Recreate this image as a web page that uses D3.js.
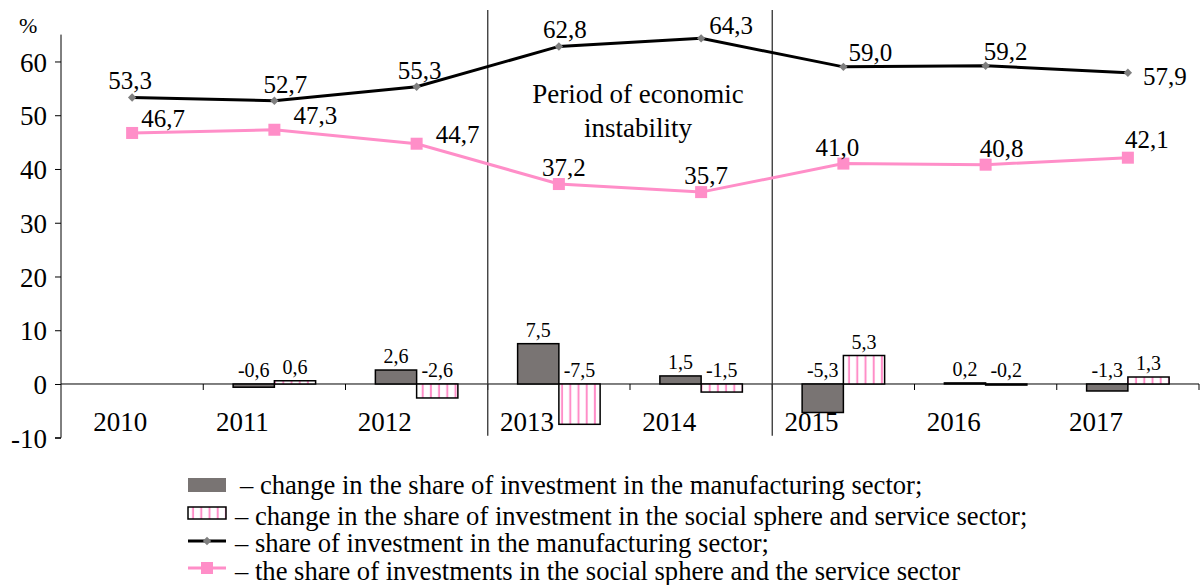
<!DOCTYPE html>
<html><head><meta charset="utf-8">
<script src="https://cdn.jsdelivr.net/npm/d3@7"></script>
<style>body{margin:0;background:#fff}svg{display:block}</style>
</head><body><svg id="c" width="1204" height="585" font-family="'Liberation Serif', 'Times New Roman', 'DejaVu Serif', serif"></svg>
<script>
const years = ["2010","2011","2012","2013","2014","2015","2016","2017"];
const shareManufacturing = [53.3,52.7,55.3,62.8,64.3,59.0,59.2,57.9];
const shareSocial = [46.7,47.3,44.7,37.2,35.7,41.0,40.8,42.1];
const changeManufacturing = [null,-0.6,2.6,7.5,1.5,-5.3,0.2,-1.3];
const changeSocial = [null,0.6,-2.6,-7.5,-1.5,5.3,-0.2,1.3];
const yTicks = [-10,0,10,20,30,40,50,60];
const legendLabels = [
  "– change in the share of investment in the manufacturing sector;",
  "– change in the share of investment in the social sphere and service sector;",
  "– share of investment in the manufacturing sector;",
  "– the share of investments in the social sphere and the service sector"
];
const periodLabel = ["Period of economic","instability"];
const periodBounds = ["2013","2014"];

// label placement (layout, not data)
const manuLabelOff = [[-2,-8],[11,-8],[3,-8],[6,-8],[30,-4],[27,-6],[20,-6],[37,12]];
const socLabelOff = [[31,-6],[41,-6],[41,-1],[5,-8],[5,-8],[-6,-8],[16,-8],[19,-10]];
const yearLabelDx = [-12,-32,-32,-32,-32,-32,-32,-32];

const SERIF = "'Liberation Serif', 'Times New Roman', 'DejaVu Serif', serif";
const fmt = v => d3.format(".1f")(v).replace(".", ",").replace("−","-");

const svg = d3.select("#c");
const L = 61, R = 1199;
const x = d3.scaleBand().domain(years).range([L, R]).paddingInner(0).paddingOuter(0);
const y = d3.scaleLinear().domain([-10, 65]).range([437.75, 34.6]);
const cx = d => x(d) + x.bandwidth()/2;
const bw = x.bandwidth()*0.29;

// pattern
const defs = svg.append("defs");
const pat = defs.append("pattern").attr("id","stripes").attr("patternUnits","userSpaceOnUse")
  .attr("width",8.2).attr("height",10);
pat.append("rect").attr("width",8.2).attr("height",10).attr("fill","#fff");
pat.append("rect").attr("x",3.5).attr("width",2).attr("height",10).attr("fill","#ff8ec8");

// y axis
const yAxis = d3.axisLeft(y).tickValues(yTicks).tickSize(6).tickPadding(8).tickFormat(d => String(d));
const gy = svg.append("g").attr("transform",`translate(${L},0)`).call(yAxis);
gy.attr("font-family",SERIF).attr("font-size",27);
gy.select(".domain").attr("stroke","#000").attr("d",`M-6,${y(-10)}H0V${y(65)}`);
gy.selectAll(".tick line").attr("stroke","#000");
gy.selectAll(".tick text").attr("fill","#000").attr("dy","0.36em");
svg.append("text").attr("x",19).attr("y",33).attr("font-size",22).text("%");

// x axis at zero
const xAxis = d3.axisBottom(x).tickSize(0).tickFormat("");
const gx = svg.append("g").attr("transform",`translate(0,${y(0)})`).call(xAxis);
gx.select(".domain").attr("stroke","#000").attr("d",`M${L},0H${R}`);
svg.append("g").selectAll("line").data(years).join("line")
  .attr("x1",(d,i)=>L+(i+1)*x.step()).attr("x2",(d,i)=>L+(i+1)*x.step())
  .attr("y1",y(0)).attr("y2",y(0)+6).attr("stroke","#000");
svg.append("g").selectAll("text").data(years).join("text")
  .attr("x",(d,i)=>cx(d)+yearLabelDx[i]).attr("y",y(0)+47).attr("text-anchor","middle").attr("font-size",27).text(d=>d);

// period lines
const px1 = x(periodBounds[0]), px2 = x(periodBounds[1]) + x.bandwidth();
[px1, px2].forEach(p => svg.append("line").attr("x1",p).attr("x2",p).attr("y1",10).attr("y2",y(-10)-2)
  .attr("stroke","#333").attr("stroke-width",1.3));
svg.append("g").selectAll("text").data(periodLabel).join("text")
  .attr("x",(px1+px2)/2+8).attr("y",(d,i)=>103+i*34).attr("text-anchor","middle").attr("font-size",27).text(d=>d);

// bars
const barsM = years.map((yr,i)=>({yr,v:changeManufacturing[i]})).filter(d=>d.v!==null);
const barsS = years.map((yr,i)=>({yr,v:changeSocial[i]})).filter(d=>d.v!==null);
svg.append("g").selectAll("rect").data(barsM).join("rect")
  .attr("x",d=>cx(d.yr)-bw).attr("width",bw)
  .attr("y",d=>y(Math.max(d.v,0))).attr("height",d=>Math.abs(y(d.v)-y(0)))
  .attr("fill","#797473").attr("stroke","#000").attr("stroke-width",1.5);
svg.append("g").selectAll("rect").data(barsS).join("rect")
  .attr("x",d=>cx(d.yr)).attr("width",bw)
  .attr("y",d=>y(Math.max(d.v,0))).attr("height",d=>Math.abs(y(d.v)-y(0)))
  .attr("fill","url(#stripes)").attr("stroke","#000").attr("stroke-width",1.5);
svg.append("g").selectAll("text").data(barsM).join("text")
  .attr("x",d=>cx(d.yr)-bw/2).attr("y",d=>y(Math.max(d.v,0))-7).attr("text-anchor","middle")
  .attr("font-size",20).text(d=>fmt(d.v));
svg.append("g").selectAll("text").data(barsS).join("text")
  .attr("x",d=>cx(d.yr)+bw/2).attr("y",d=>y(Math.max(d.v,0))-7).attr("text-anchor","middle")
  .attr("font-size",20).text(d=>fmt(d.v));

// lines
const line = d3.line().x(d=>cx(d.yr)).y(d=>y(d.v));
const ptsM = years.map((yr,i)=>({yr,v:shareManufacturing[i]}));
const ptsS = years.map((yr,i)=>({yr,v:shareSocial[i]}));
svg.append("path").datum(ptsS).attr("d",line).attr("fill","none").attr("stroke","#ff8ec8").attr("stroke-width",3);
svg.append("g").selectAll("rect").data(ptsS).join("rect")
  .attr("x",d=>cx(d.yr)-6).attr("y",d=>y(d.v)-6).attr("width",12).attr("height",12).attr("fill","#ff8ec8");
svg.append("path").datum(ptsM).attr("d",line).attr("fill","none").attr("stroke","#000").attr("stroke-width",3);
svg.append("g").selectAll("path").data(ptsM).join("path")
  .attr("d",d3.symbol(d3.symbolDiamond2,45)).attr("transform",d=>`translate(${cx(d.yr)},${y(d.v)})`).attr("fill","#7f7f7f");

svg.append("g").selectAll("text").data(ptsM).join("text")
  .attr("x",(d,i)=>cx(d.yr)+manuLabelOff[i][0]).attr("y",(d,i)=>y(d.v)+manuLabelOff[i][1])
  .attr("text-anchor","middle").attr("font-size",25).text(d=>fmt(d.v));
svg.append("g").selectAll("text").data(ptsS).join("text")
  .attr("x",(d,i)=>cx(d.yr)+socLabelOff[i][0]).attr("y",(d,i)=>y(d.v)+socLabelOff[i][1])
  .attr("text-anchor","middle").attr("font-size",25).text(d=>fmt(d.v));

// legend
const lg = svg.append("g");
const rowY = [486, 517, 544, 572];
lg.append("rect").attr("x",188).attr("y",478).attr("width",38).attr("height",14).attr("fill","#797473");
lg.append("rect").attr("x",188).attr("y",507).attr("width",38).attr("height",12).attr("fill","url(#stripes)").attr("stroke","#000").attr("stroke-width",1.5);
lg.append("line").attr("x1",188).attr("x2",226).attr("y1",rowY[2]-3).attr("y2",rowY[2]-3).attr("stroke","#000").attr("stroke-width",3);
lg.append("path").attr("d",d3.symbol(d3.symbolDiamond2,45)).attr("transform",`translate(207,${rowY[2]-3})`).attr("fill","#7f7f7f");
lg.append("line").attr("x1",188).attr("x2",226).attr("y1",rowY[3]-4).attr("y2",rowY[3]-4).attr("stroke","#ff8ec8").attr("stroke-width",3);
lg.append("rect").attr("x",201).attr("y",rowY[3]-10).attr("width",12).attr("height",12).attr("fill","#ff8ec8");
lg.selectAll("text").data(legendLabels).join("text")
  .attr("x",(d,i)=>i===0?240:235).attr("y",(d,i)=>rowY[i]+8).attr("font-size",26.6).text(d=>d);
</script></body></html>
